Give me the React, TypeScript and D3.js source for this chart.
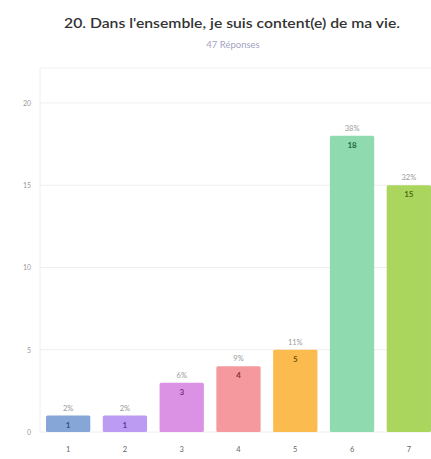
import React, { useEffect, useRef } from "react";
import * as d3 from "d3";

const categories = ["1", "2", "3", "4", "5", "6", "7"];
const counts = [1, 1, 3, 4, 5, 18, 15];
const percents = ["2%", "2%", "6%", "9%", "11%", "38%", "32%"];
const barColors = ["#86a6d8", "#bb9cf2", "#dc92e4", "#f5999f", "#fcbb4e", "#8fdaae", "#abd65e"];
const labelColors = ["#2e4f86", "#5b3aa0", "#7a2e86", "#8e2f38", "#7a5206", "#1f6b3f", "#4b6b12"];
const yTicks = [0, 5, 10, 15, 20];

const App: React.FC = () => {
  const svgRef = useRef<SVGSVGElement>(null);

  useEffect(() => {
    if (!svgRef.current) return;
    const width = 431;
    const height = 459;
    const margin = { top: 70, bottom: 27, left: 40 };

    const svg = d3.select(svgRef.current);
    svg.selectAll("*").remove();
    svg.attr("width", width).attr("height", height).style("font-family", "Lato, 'Noto Sans', sans-serif");

    // the last bar runs almost to the right edge of the picture
    const x = d3
      .scaleBand()
      .domain(categories)
      .range([margin.left, 437])
      .paddingInner(0.22)
      .paddingOuter(0.106);

    const y = d3.scaleLinear().domain([0, 22]).range([height - margin.bottom, margin.top]);

    svg
      .append("text")
      .attr("x", 232)
      .attr("y", 28)
      .attr("text-anchor", "middle")
      .attr("font-size", 13.5)
      .attr("font-weight", 600)
      .attr("fill", "#333")
      .attr("textLength", 336)
      .attr("lengthAdjust", "spacingAndGlyphs")
      .text("20. Dans l'ensemble, je suis content(e) de ma vie.");

    svg
      .append("text")
      .attr("x", 233)
      .attr("y", 48)
      .attr("text-anchor", "middle")
      .attr("font-size", 9.5)
      .attr("fill", "#a3a3c2")
      .text("47 Réponses");

    // grid
    svg
      .append("g")
      .selectAll("line")
      .data(yTicks)
      .join("line")
      .attr("x1", margin.left)
      .attr("x2", width)
      .attr("y1", (d) => y(d))
      .attr("y2", (d) => y(d))
      .attr("stroke", "#eeeeee");

    svg
      .append("line")
      .attr("x1", margin.left)
      .attr("x2", width)
      .attr("y1", margin.top - 2)
      .attr("y2", margin.top - 2)
      .attr("stroke", "#f2f2f2");

    svg
      .append("line")
      .attr("x1", margin.left)
      .attr("x2", margin.left)
      .attr("y1", margin.top - 2)
      .attr("y2", y(0))
      .attr("stroke", "#eeeeee");

    svg
      .append("g")
      .selectAll("text")
      .data(yTicks)
      .join("text")
      .attr("x", 31)
      .attr("y", (d) => y(d) + 3)
      .attr("text-anchor", "end")
      .attr("font-size", 7)
      .attr("fill", "#999")
      .text((d) => d);

    const g = svg.append("g");
    g.selectAll("rect")
      .data(counts)
      .join("rect")
      .attr("x", (_, i) => x(categories[i]) || 0)
      .attr("y", (d) => y(d))
      .attr("width", x.bandwidth())
      .attr("height", (d) => y(0) - y(d))
      .attr("rx", 1.5)
      .attr("fill", (_, i) => barColors[i]);

    g.selectAll("text.pct")
      .data(counts)
      .join("text")
      .attr("class", "pct")
      .attr("x", (_, i) => (x(categories[i]) || 0) + x.bandwidth() / 2)
      .attr("y", (d) => y(d) - 5)
      .attr("text-anchor", "middle")
      .attr("font-size", 7.5)
      .attr("fill", "#9a9a9a")
      .text((_, i) => percents[i]);

    g.selectAll("text.cnt")
      .data(counts)
      .join("text")
      .attr("class", "cnt")
      .attr("x", (_, i) => (x(categories[i]) || 0) + x.bandwidth() / 2)
      .attr("y", (d) => y(d) + 12)
      .attr("text-anchor", "middle")
      .attr("font-size", 8)
      .attr("font-weight", 700)
      .attr("fill", (_, i) => labelColors[i])
      .text((d) => d);

    svg
      .append("g")
      .selectAll("text")
      .data(categories)
      .join("text")
      .attr("x", (d) => (x(d) || 0) + x.bandwidth() / 2)
      .attr("y", height - 7)
      .attr("text-anchor", "middle")
      .attr("font-size", 7.5)
      .attr("fill", "#666")
      .text((d) => d);
  }, []);

  return <svg ref={svgRef} style={{ position: "absolute", left: 0, top: 0 }} />;
};

export default App;
